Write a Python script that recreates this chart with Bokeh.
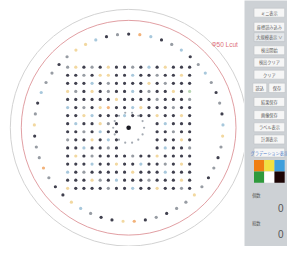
import numpy as np
from bokeh.plotting import figure
from bokeh.layouts import row
from bokeh.models import Range1d
from bokeh.core.properties import value
from bokeh.embed import file_html
from bokeh.resources import INLINE

# ---------------- data ----------------
# 16 x 16 die grid, one char per die ('.' = no die, centre area)
grid_rows = [
    "gykgkykkgkbkykkk",
    "kkgkyykkbkkgkkyk",
    "kkkbkgkkkkykgkkk",
    "ygkykgkkbkgkkyks",
    "kkkkkkykkkkgkkkg",
    "bkgkyokkbykkkgkk",
    "kkybkkkbkkkykkyk",
    "kbkkygk....kbkkk",
    "kkgkbkk....kkgkk",
    "gkkykbk....kkkyk",
    "kkbkkgk....kbkkg",
    "kykgkkkkgkkykkkk",
    "kkkbkkykkbkkgkyk",
    "bkgkkkkkykkkbkkk",
    "kkkygkbkkkgkkkyk",
    "ykkkkgkkbkkykkgk",
]
# 52 edge dies on the outer ring, clockwise from the top
ring_colors = list("kobkgbkgbgkgkbyg" "kgkgyggkgkoyk" "kgbykkgoggkyg" "kbggkgyybkg")
palette = {"k": "#40404e", "g": "#979ca3", "b": "#a8c8dc", "y": "#f2d8a0",
           "o": "#f2b27a", "s": "#b9d6b4"}
inner_ring_n = 14
wafer_r = 14.55      # outer wafer edge (die pitches)
valid_r = 13.2       # red limit circle
ring_r = 11.6        # edge-die ring
inner_r = 1.9        # small centre ring
label_text = "Φ50 Lcut"

btn_labels = ["ミニ表示", "座標読み込み", "大規模表示 ∨", "検出開始", "検出クリア", "クリア",
              "結果保存", "画像保存", "ラベル表示", "計測表示", "グラデーション表示"]
btn_y = [13, 28, 39, 53, 66, 79, 108, 122, 135, 148, 162]
small_btns = ["読込", "保存"]
swatch_colors = ["#f07e12", "#f2e040", "#3f9fdc", "#2f9a3c", "#ffffff", "#1c0404"]
counter_labels = ["個数", "総数"]
counter_values = ["0", "0"]

# ---------------- wafer figure ----------------
pitch = 8.6
cx = 135.5
W, H = 244, 246
p = figure(width=W, height=H, output_backend="svg", toolbar_location=None,
           x_range=Range1d(-cx / pitch, (258 - cx) / pitch),
           y_range=Range1d(-(262 - cx) / pitch, cx / pitch),
           x_axis_type=None, y_axis_type=None, min_border=0)
p.grid.visible = False
p.outline_line_color = None
p.background_fill_color = "white"

p.circle(x=[0], y=[0], radius=wafer_r, fill_color=None, line_color="#d2d2d2", line_width=1)
p.circle(x=[0], y=[0], radius=valid_r, fill_color=None, line_color="#d9868c", line_width=0.8)

xs, ys, cs = [], [], []
n = len(grid_rows)
for r, line in enumerate(grid_rows):
    for c, ch in enumerate(line):
        if ch == ".":
            continue
        xs.append(c - (n - 1) / 2)
        ys.append((n - 1) / 2 - r)
        cs.append(palette[ch])
p.scatter(x=xs, y=ys, size=3.2, fill_color=cs, line_color=None)

ang = np.pi / 2 - np.arange(len(ring_colors)) * 2 * np.pi / len(ring_colors)
p.scatter(x=ring_r * np.cos(ang), y=ring_r * np.sin(ang), size=3.2,
          fill_color=[palette[c] for c in ring_colors], line_color=None)

ang2 = np.arange(inner_ring_n) * 2 * np.pi / inner_ring_n
p.scatter(x=inner_r * np.cos(ang2), y=inner_r * np.sin(ang2), size=2.2,
          fill_color="#a4aab2", line_color=None)
p.scatter(x=[0], y=[0], size=4.6, fill_color="#1a1a22", line_color=None)

p.text(x=[(237 - cx) / pitch], y=[(cx - 47) / pitch], text=[label_text],
       text_font=value("Liberation Sans"), text_font_size="6.5px",
       text_color="#e0707a", text_align="center", text_baseline="middle")

# ---------------- side panel ----------------
q = figure(width=287 - W, height=H, output_backend="svg", toolbar_location=None,
           x_range=Range1d(258, 303), y_range=Range1d(262, 0),
           x_axis_type=None, y_axis_type=None, min_border=0)
q.grid.visible = False
q.outline_line_color = None
q.background_fill_color = "#cdd1d5"

fill = ["#f6f6f6"] * len(btn_labels)
fill[2] = "#e4e7ea"
q.rect(x=[284] * len(btn_labels), y=btn_y, width=32, height=9.5,
       fill_color=fill, line_color="#b8bcc0", line_width=0.5)
tcol = ["#5a5a5a"] * len(btn_labels)
tcol[-1] = "#4a78c8"
q.text(x=[284] * len(btn_labels), y=btn_y, text=btn_labels, text_font=value("Noto Sans CJK JP"),
       text_font_size="4.2px", text_color=tcol, text_align="center", text_baseline="middle")

q.rect(x=[274, 292], y=[93, 93], width=[14.5, 17], height=10,
       fill_color="#f6f6f6", line_color="#b8bcc0", line_width=0.5)
q.text(x=[274, 292], y=[93, 93], text=small_btns, text_font=value("Noto Sans CJK JP"),
       text_font_size="4.2px", text_color="#5a5a5a", text_align="center", text_baseline="middle")

sx = [273.3 + 10.7 * (i % 3) for i in range(6)]
sy = [176 + 12 * (i // 3) for i in range(6)]
q.rect(x=sx, y=sy, width=10.7, height=12, fill_color=swatch_colors, line_color=None)

q.text(x=[266, 266], y=[207, 237], text=counter_labels, text_font=value("Noto Sans CJK JP"),
       text_font_size="4.2px", text_color="#555555", text_align="left", text_baseline="middle")
q.text(x=[299, 299], y=[221, 249], text=counter_values, text_font=value("Liberation Sans"),
       text_font_size="10px", text_color="#555555", text_align="right", text_baseline="middle")

layout = row(p, q, spacing=0)
open("out.html", "w").write(file_html(layout, INLINE))
